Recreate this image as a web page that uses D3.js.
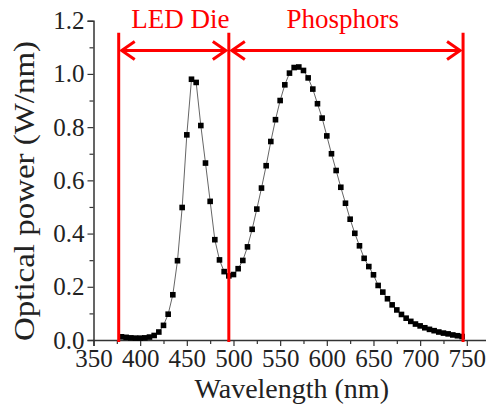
<!DOCTYPE html>
<html>
<head>
<meta charset="utf-8">
<script src="https://cdn.jsdelivr.net/npm/d3@7"></script>
<style>
  html, body { margin: 0; padding: 0; background: #fff; }
  svg { display: block; }
  text { font-family: "Liberation Serif", "Times New Roman", serif; }
</style>
</head>
<body>
<div id="chart"></div>
<script>
// wavelength samples (nm) and optical power (W/nm)
const wavelengths = [380, 385, 390, 395, 400, 405, 410, 415, 420, 425, 430, 435, 440, 445, 450, 455, 460, 465, 470, 475,
  480, 485, 490, 495, 500, 505, 510, 515, 520, 525, 530, 535, 540, 545, 550, 555, 560, 565, 570, 575,
  580, 585, 590, 595, 600, 605, 610, 615, 620, 625, 630, 635, 640, 645, 650, 655, 660, 665, 670, 675,
  680, 685, 690, 695, 700, 705, 710, 715, 720, 725, 730, 735, 740, 745];
const power = [0.012, 0.010, 0.008, 0.007, 0.007, 0.008, 0.011, 0.017, 0.030, 0.055, 0.097, 0.170, 0.298, 0.498, 0.771, 0.980, 0.968, 0.806, 0.665, 0.521,
  0.377, 0.301, 0.257, 0.241, 0.246, 0.268, 0.299, 0.350, 0.416, 0.492, 0.571, 0.655, 0.746, 0.828, 0.900, 0.959, 1.003, 1.024, 1.026, 1.013,
  0.985, 0.943, 0.888, 0.834, 0.767, 0.700, 0.637, 0.574, 0.514, 0.454, 0.401, 0.354, 0.307, 0.276, 0.245, 0.205, 0.180, 0.155, 0.132, 0.113,
  0.096, 0.082, 0.070, 0.060, 0.053, 0.046, 0.040, 0.035, 0.030, 0.026, 0.023, 0.019, 0.016, 0.013];

// red annotation: region boundaries and labels
const boundaries = [377, 495, 746];
const regionLabels = ["LED Die", "Phosphors"];
const labelCenters = [443, 617];

const xTicks = [350, 400, 450, 500, 550, 600, 650, 700, 750];
const yTicks = [0.0, 0.2, 0.4, 0.6, 0.8, 1.0, 1.2];

const width = 486, height = 413;
const red = "#ff0000";

const svg = d3.select("#chart").append("svg")
    .attr("width", width)
    .attr("height", height);

const x = d3.scaleLinear().domain([350, 771]).range([93.5, 486.4]);
const y = d3.scaleLinear().domain([0, 1.2]).range([340, 20.7]);

// x axis: minor then major ticks
svg.append("g")
    .attr("transform", `translate(0,${y(0)})`)
    .call(d3.axisBottom(x).tickValues(d3.range(375, 771, 50)).tickSize(4).tickFormat(""))
    .call(g => g.select(".domain").remove());
const xAxis = svg.append("g")
    .attr("transform", `translate(0,${y(0)})`)
    .call(d3.axisBottom(x).tickValues(xTicks).tickSize(6).tickPadding(3).tickFormat(d3.format("d")));
xAxis.selectAll("text").style("font-size", "25px").attr("fill", "#222");

// y axis
svg.append("g")
    .attr("transform", `translate(${x(350)},0)`)
    .call(d3.axisLeft(y).tickValues(d3.range(0.1, 1.2, 0.2)).tickSize(4).tickFormat(""))
    .call(g => g.select(".domain").remove());
const yAxis = svg.append("g")
    .attr("transform", `translate(${x(350)},0)`)
    .call(d3.axisLeft(y).tickValues(yTicks).tickSize(6).tickPadding(3).tickFormat(d3.format(".1f")));
yAxis.selectAll("text").style("font-size", "25px").attr("fill", "#222");

svg.selectAll(".domain").attr("stroke", "#333").attr("stroke-width", 1.5);
svg.selectAll(".tick line").attr("stroke", "#333").attr("stroke-width", 1.2);

// axis titles
svg.append("text")
    .attr("x", (x(350) + width) / 2 + 2)
    .attr("y", 398)
    .attr("text-anchor", "middle")
    .style("font-size", "28px")
    .attr("fill", "#222")
    .text("Wavelength (nm)");

// the original's y title is drawn taller than its font, so stretch it along its length
svg.append("text")
    .attr("transform", `translate(34,${y(0.56)}) rotate(-90)`)
    .attr("text-anchor", "middle")
    .attr("textLength", 300)
    .attr("lengthAdjust", "spacingAndGlyphs")
    .style("font-size", "29px")
    .attr("fill", "#222")
    .text("Optical power (W/nm)");

// spectrum line and square markers
const points = wavelengths.map((w, i) => ({ w: w, p: power[i] }));

svg.append("path")
    .datum(points)
    .attr("fill", "none")
    .attr("stroke", "#666")
    .attr("stroke-width", 1)
    .attr("d", d3.line().x(d => x(d.w)).y(d => y(d.p)));

svg.append("g")
    .selectAll("rect")
    .data(points)
    .join("rect")
    .attr("x", d => x(d.w) - 2.8)
    .attr("y", d => y(d.p) - 2.8)
    .attr("width", 5.6)
    .attr("height", 5.6)
    .attr("fill", "#000");

// red boundary lines
const topLine = y(1.155), arrowY = y(1.088);
svg.append("g")
    .selectAll("line")
    .data(boundaries)
    .join("line")
    .attr("x1", d => x(d)).attr("x2", d => x(d))
    .attr("y1", topLine).attr("y2", y(0) + 2)
    .attr("stroke", red)
    .attr("stroke-width", 3);

// double-headed arrows between boundaries
const arrows = d3.pairs(boundaries);
const ag = svg.append("g").attr("fill", "none").attr("stroke", red).attr("stroke-width", 3);
arrows.forEach(([a, b]) => {
  const x0 = x(a) + 3, x1 = x(b) - 3;
  ag.append("line").attr("x1", x0).attr("x2", x1).attr("y1", arrowY).attr("y2", arrowY);
  ag.append("path").attr("d", `M${x0 + 13},${arrowY - 9}L${x0},${arrowY}L${x0 + 13},${arrowY + 9}`);
  ag.append("path").attr("d", `M${x1 - 13},${arrowY - 9}L${x1},${arrowY}L${x1 - 13},${arrowY + 9}`);
});

// region labels
svg.append("g")
    .selectAll("text")
    .data(regionLabels)
    .join("text")
    .attr("x", (d, i) => x(labelCenters[i]))
    .attr("y", y(1.172))
    .attr("text-anchor", "middle")
    .style("font-size", "27px")
    .attr("fill", red)
    .text(d => d);
</script>
</body>
</html>
